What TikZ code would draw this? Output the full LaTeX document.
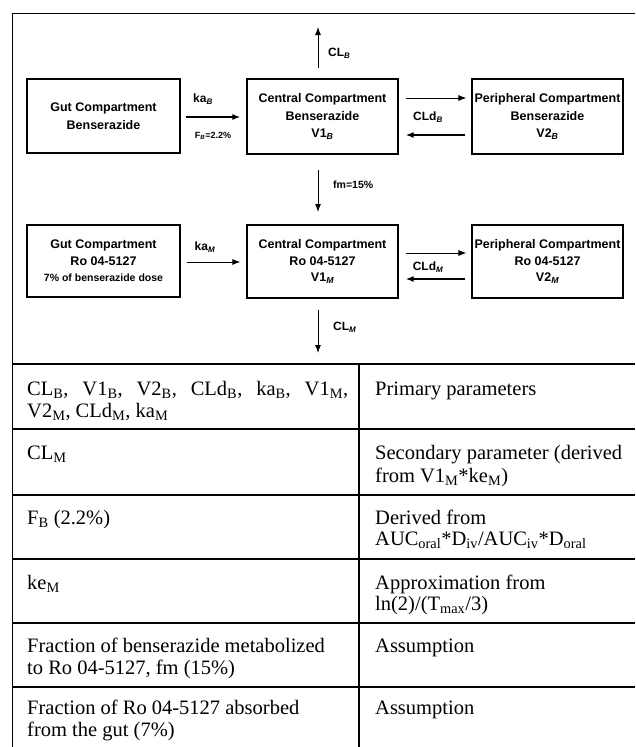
\documentclass[tikz,border=0pt]{standalone}
\usepackage{fontspec}
\setmainfont{Liberation Serif}
\newfontfamily\dsans{Liberation Sans}
\usetikzlibrary{arrows.meta}
\newcommand{\sbi}[1]{\textsubscript{\itshape #1}}
\begin{document}
\begin{tikzpicture}[x=1pt,y=-1pt,
  comp/.style={draw,line width=1.1pt,inner sep=0pt,align=center,
    font=\dsans\bfseries\fontsize{12.5}{17.5}\selectfont},
  compM/.style={comp,font=\dsans\bfseries\fontsize{12.5}{16.5}\selectfont},
  arr/.style={-{Latex[length=8pt,width=6pt]},line width=1pt},
  arrb/.style={arr,line width=1.8pt},
  lbl/.style={inner sep=0pt,font=\dsans\bfseries\fontsize{12}{14}\selectfont},
  slbl/.style={inner sep=0pt,font=\dsans\bfseries\fontsize{9}{11}\selectfont},
  tt/.style={anchor=base west,inner sep=0pt,font=\fontsize{20.5}{23}\selectfont},
  rule/.style={line width=2.4pt},
]
\useasboundingbox (0,0) rectangle (635,747);
% outer frame
\draw[line width=1pt] (12,747) -- (12,13) -- (635,13);

% compartments
\node[comp,minimum width=153pt,minimum height=74pt] (GutB) at (103.5,116)
  {Gut Compartment\\Benserazide};
\node[comp,minimum width=151pt,minimum height=75pt] (CenB) at (322.5,116.5)
  {Central Compartment\\Benserazide\\V1\sbi{B}};
\node[comp,minimum width=151pt,minimum height=75pt] (PerB) at (547.5,116.5)
  {Peripheral Compartment\\Benserazide\\V2\sbi{B}};
\node[compM,minimum width=153pt,minimum height=72pt] (GutM) at (103.5,261)
  {Gut Compartment\\Ro 04-5127\\{\fontsize{10.5}{12}\selectfont 7\% of benserazide dose}};
\node[compM,minimum width=151pt,minimum height=73pt] (CenM) at (322.5,261.5)
  {Central Compartment\\Ro 04-5127\\V1\sbi{M}};
\node[compM,minimum width=151pt,minimum height=73pt] (PerM) at (547.5,261.5)
  {Peripheral Compartment\\Ro 04-5127\\V2\sbi{M}};

% free arrow ends
\coordinate (clBa) at (318,68);
\coordinate (clBb) at (318,27);
\coordinate (fmA) at (318,170);
\coordinate (fmB) at (318,212);
\coordinate (clMa) at (318,310);
\coordinate (clMb) at (318,353);

% arrows
\draw[arr] (clBa) -- (clBb);
\draw[arr] (fmA) -- (fmB);
\draw[arr] (clMa) -- (clMb);
\draw[arrb] ([xshift=5pt,yshift=-1pt]GutB.east) -- ([xshift=-6pt,yshift=-0.5pt]CenB.west);
\draw[arr] ([xshift=7pt,yshift=18.5pt]CenB.east) -- ([xshift=-5pt,yshift=18.5pt]PerB.west);
\draw[arrb] ([xshift=-6pt,yshift=-18.5pt]PerB.west) -- ([xshift=7pt,yshift=-18.5pt]CenB.east);
\draw[arr] ([xshift=6pt,yshift=-1pt]GutM.east) -- ([xshift=-6pt,yshift=-0.5pt]CenM.west);
\draw[arr] ([xshift=7pt,yshift=8.5pt]CenM.east) -- ([xshift=-5pt,yshift=8.5pt]PerM.west);
\draw[arrb] ([xshift=-6pt,yshift=-17.5pt]PerM.west) -- ([xshift=7pt,yshift=-17.5pt]CenM.east);

% labels
\node[lbl] (kaB) at (203,99) {ka\sbi{B}};
\node[slbl] (FB) at (213,136) {F\sbi{B}=2.2\%};
\node[lbl,anchor=west] (CLB) at (328,53) {CL\sbi{B}};
\node[lbl] (CLdB) at (428,117) {CLd\sbi{B}};
\node[lbl,anchor=west,font=\dsans\bfseries\fontsize{10.5}{12}\selectfont] (fm) at (333,185) {fm=15\%};
\node[lbl] (kaM) at (205,247) {ka\sbi{M}};
\node[lbl] (CLdM) at (428,267) {CLd\sbi{M}};
\node[lbl,anchor=west] (CLM) at (333,327) {CL\sbi{M}};

% table rules
\draw[rule,line width=2.8pt] (12,364) -- (635,364);
\draw[rule] (12,429) -- (635,429);
\draw[rule] (12,495) -- (635,495);
\draw[rule] (12,559) -- (635,559);
\draw[rule] (12,623) -- (635,623);
\draw[rule] (12,687) -- (635,687);
\draw[line width=1.5pt] (359,364) -- (359,747);

% table text, left column
\node[tt] (r1a) at (27,395) {\makebox[321pt][s]{CL\textsubscript{B}, V1\textsubscript{B}, V2\textsubscript{B}, CLd\textsubscript{B}, ka\textsubscript{B}, V1\textsubscript{M},}};
\node[tt] (r1b) at (27,417) {V2\textsubscript{M}, CLd\textsubscript{M}, ka\textsubscript{M}};
\node[tt] (r2a) at (27,459) {CL\textsubscript{M}};
\node[tt] (r3a) at (27,524) {F\textsubscript{B} (2.2\%)};
\node[tt] (r4a) at (27,589) {ke\textsubscript{M}};
\node[tt] (r5a) at (27,652) {Fraction of benserazide metabolized};
\node[tt] (r5b) at (27,674) {to Ro 04-5127, fm (15\%)};
\node[tt] (r6a) at (27,714) {Fraction of Ro 04-5127 absorbed};
\node[tt] (r6b) at (27,736) {from the gut (7\%)};

% table text, right column
\node[tt] (s1a) at (375,395) {Primary parameters};
\node[tt] (s2a) at (375,459) {Secondary parameter (derived};
\node[tt] (s2b) at (375,482) {from V1\textsubscript{M}*ke\textsubscript{M})};
\node[tt] (s3a) at (375,524) {Derived from};
\node[tt] (s3b) at (375,545) {AUC\textsubscript{oral}*D\textsubscript{iv}/AUC\textsubscript{iv}*D\textsubscript{oral}};
\node[tt] (s4a) at (375,589) {Approximation from};
\node[tt] (s4b) at (375,610) {ln(2)/(T\textsubscript{max}/3)};
\node[tt] (s5a) at (375,652) {Assumption};
\node[tt] (s6a) at (375,714) {Assumption};
\end{tikzpicture}
\end{document}
